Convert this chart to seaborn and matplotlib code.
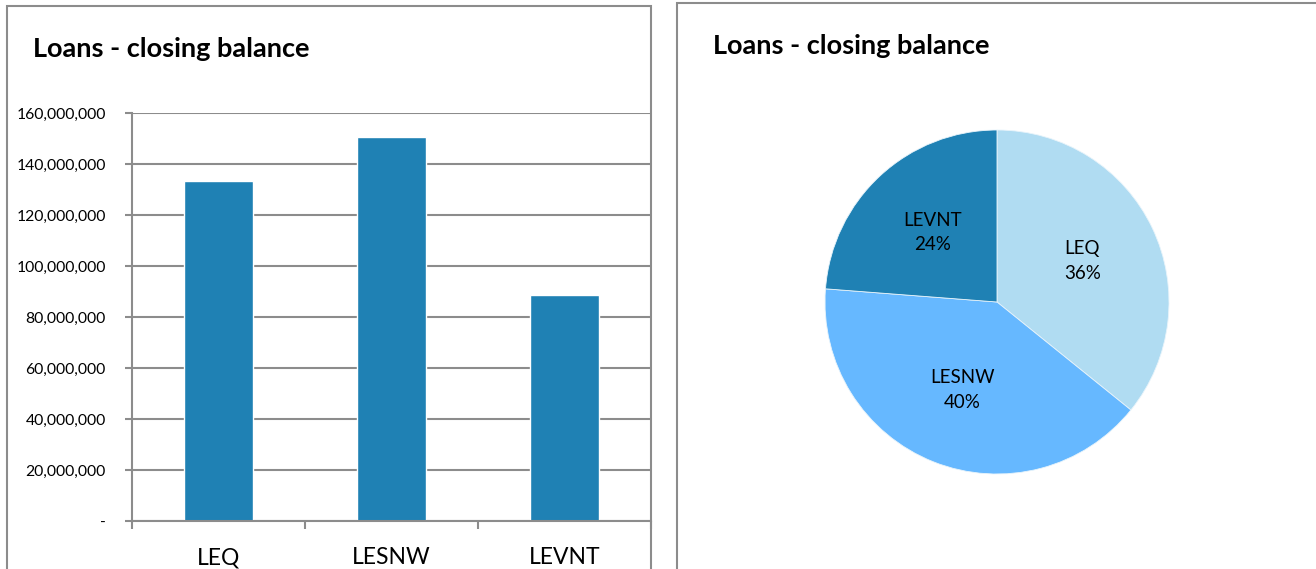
import matplotlib
matplotlib.use("Agg")
import matplotlib.pyplot as plt
import matplotlib.ticker as mticker
from matplotlib.patches import Rectangle
import seaborn as sns
import pandas as pd

# Loan closing balances by entity
categories = ["LEQ", "LESNW", "LEVNT"]
balances = [133_400_000, 150_600_000, 88_600_000]
title = "Loans - closing balance"

bar_color = "#1f81b4"
pie_colors = ["#b0dcf2", "#66b8ff", "#1f81b4"]
grid_gray = "#8c8c8c"

sns.set_theme(style="white")
plt.rcParams["font.family"] = ["Lato", "DejaVu Sans"]

W, H = 1316, 569
fig = plt.figure(figsize=(W / 100, H / 100), dpi=100)
fig.patch.set_facecolor("white")

def fx(px):
    return px / W

def fy(py):
    return 1 - py / H

# Panel frames
fig.add_artist(Rectangle((fx(7), fy(600)), fx(651 - 7), (600 - 6) / H,
                         transform=fig.transFigure, fill=False,
                         edgecolor=grid_gray, linewidth=1.5))
fig.add_artist(Rectangle((fx(677), fy(600)), fx(700), (600 - 3) / H,
                         transform=fig.transFigure, fill=False,
                         edgecolor=grid_gray, linewidth=1.5))

# Bar chart
df = pd.DataFrame({"entity": categories, "balance": balances})
ax = fig.add_axes([fx(132), fy(521), fx(651 - 132), (521 - 113) / H])
sns.barplot(data=df, x="entity", y="balance", color=bar_color, width=0.4,
            saturation=1, ax=ax)
ax.set_xlim(-0.5, len(categories) - 0.5)
ax.set_ylim(0, 160_000_000)
ax.yaxis.set_major_locator(mticker.MultipleLocator(20_000_000))
ax.yaxis.set_major_formatter(mticker.FuncFormatter(
    lambda v, _: "-" if v == 0 else f"{v:,.0f}"))
ax.set_axisbelow(True)
ax.grid(axis="y", color=grid_gray, linewidth=1.5)
ax.grid(axis="x", visible=False)
for side in ("top", "right"):
    ax.spines[side].set_visible(False)
for side in ("left", "bottom"):
    ax.spines[side].set_color(grid_gray)
    ax.spines[side].set_linewidth(1.5)
ax.set_xlabel("")
ax.set_ylabel("")
ax.xaxis.set_minor_locator(mticker.FixedLocator(
    [i - 0.5 for i in range(len(categories) + 1)]))
ax.tick_params(axis="x", which="major", length=0, pad=19, labelsize=16.5,
               labelcolor="black")
ax.tick_params(axis="x", which="minor", bottom=True, direction="out",
               length=6, width=1.5, color=grid_gray)
ax.tick_params(axis="y", which="major", left=True, direction="out",
               length=5, width=1.5, color=grid_gray, pad=14, labelsize=11.3,
               labelcolor="black")
fig.text(fx(33), fy(49), title, fontsize=19.5, fontweight="bold",
         va="center", ha="left", color="black")

# Pie chart
cx, cy, r = 997, 302, 172
ax2 = fig.add_axes([fx(cx - r), fy(cy + r), fx(2 * r), 2 * r / H])
label_iter = iter(categories)
wedges, texts, autotexts = ax2.pie(
    balances, colors=pie_colors, startangle=90, counterclock=False,
    autopct=lambda p: f"{next(label_iter)}\n{p:.0f}%", pctdistance=0.55,
    wedgeprops=dict(linewidth=0.6, edgecolor="#e8f4fb"),
    textprops=dict(fontsize=13.5, color="black", linespacing=1.55))
ax2.set_xlim(-1, 1)
ax2.set_ylim(-1, 1)
ax2.set_aspect("equal")
fig.text(fx(713), fy(46), title, fontsize=19.5, fontweight="bold",
         va="center", ha="left", color="black")

fig.savefig("out.png", dpi=100)
